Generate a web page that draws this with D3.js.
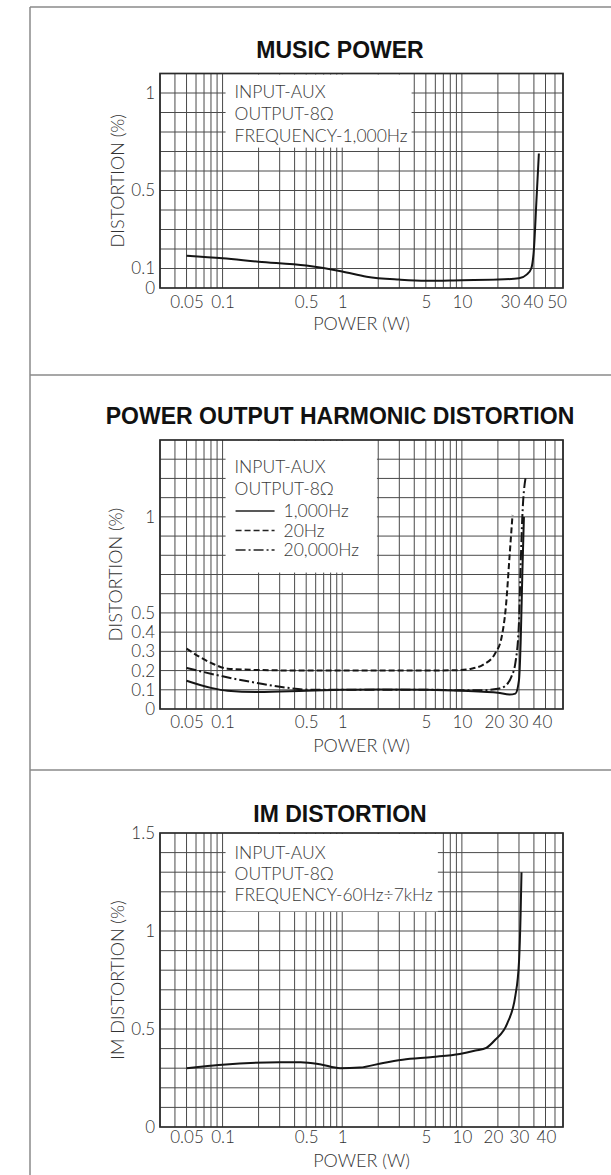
<!DOCTYPE html>
<html><head><meta charset="utf-8">
<script src="https://cdn.jsdelivr.net/npm/d3@7"></script>
<style>html,body{margin:0;padding:0;background:#fff;} svg{display:block}</style>
</head><body>
<svg id="c" width="611" height="1175"></svg>
<script>
// ---------- DATA ----------
// Music power (1,000Hz): power (W) vs distortion (%)
const musicX = [0.05, 0.1, 0.2, 0.5, 1, 1.6, 3, 5, 10, 20, 30, 35, 38, 40, 42, 44];
const musicY = [0.165, 0.152, 0.135, 0.115, 0.085, 0.058, 0.043, 0.037, 0.04, 0.043, 0.05, 0.07, 0.1, 0.2, 0.45, 0.69];

// Power output harmonic distortion
const thd1kX = [0.05, 0.08, 0.11, 0.2, 0.5, 1, 2, 5, 10, 15, 20, 25, 28, 30, 31, 32, 33];
const thd1kY = [0.147, 0.11, 0.095, 0.088, 0.095, 0.1, 0.102, 0.1, 0.095, 0.09, 0.085, 0.075, 0.08, 0.15, 0.35, 0.7, 1.0];
const thd20X = [0.05, 0.08, 0.11, 0.2, 0.5, 1, 2, 5, 9, 12, 15, 19, 21.5, 23.3, 25, 26.5];
const thd20Y = [0.314, 0.24, 0.21, 0.203, 0.2, 0.2, 0.2, 0.2, 0.202, 0.21, 0.23, 0.29, 0.375, 0.53, 0.79, 1.01];
const thd20kX = [0.05, 0.1, 0.2, 0.35, 0.55, 1, 2, 5, 10, 15, 20, 23, 26, 28, 30, 31, 32, 34];
const thd20kY = [0.214, 0.17, 0.134, 0.11, 0.1, 0.1, 0.1, 0.1, 0.098, 0.098, 0.105, 0.12, 0.17, 0.24, 0.45, 0.75, 1.0, 1.2];

// IM distortion
const imX = [0.05, 0.06, 0.1, 0.3, 0.45, 0.65, 0.96, 1.4, 2.2, 3.2, 5.7, 9.6, 13, 16, 19, 24, 28, 30, 31, 31.5];
const imY = [0.3, 0.305, 0.318, 0.33, 0.33, 0.32, 0.3, 0.303, 0.327, 0.343, 0.357, 0.373, 0.39, 0.404, 0.445, 0.53, 0.67, 0.84, 1.1, 1.3];

// Tick labels
const xTicksMusic = [0.05, 0.1, 0.5, 1, 5, 10, 30, 40, 50];
const xTicksTHD = [0.05, 0.1, 0.5, 1, 5, 10, 20, 30, 40];
const xTicksIM = [0.05, 0.1, 0.5, 1, 5, 10, 20, 30, 40];
const yTicksMusic = [0, 0.1, 0.5, 1];
const yTicksTHD = [0, 0.1, 0.2, 0.3, 0.4, 0.5, 1];
const yTicksIM = [0, 0.5, 1, 1.5];

const titles = ["MUSIC POWER", "POWER OUTPUT HARMONIC DISTORTION", "IM DISTORTION"];
const infoMusic = ["INPUT-AUX", "OUTPUT-8Ω", "FREQUENCY-1,000Hz"];
const infoTHD = ["INPUT-AUX", "OUTPUT-8Ω"];
const legendTHD = ["1,000Hz", "20Hz", "20,000Hz"];
const infoIM = ["INPUT-AUX", "OUTPUT-8Ω", "FREQUENCY-60Hz÷7kHz"];

// ---------- DRAW ----------
const svg = d3.select("#c");
const LABEL_FONT = "Lato, 'Open Sans', 'DejaVu Sans', sans-serif";
const TITLE_FONT = "'Liberation Sans', Arial, sans-serif";
const TXT = "#333";

svg.append("rect").attr("width", 611).attr("height", 1175).attr("fill", "#fff");

// page frame
const frame = svg.append("g").attr("stroke", "#8a8a8a").attr("stroke-width", 1.5);
frame.append("line").attr("x1", 30).attr("y1", 7).attr("x2", 611).attr("y2", 7);
frame.append("line").attr("x1", 30).attr("y1", 7).attr("x2", 30).attr("y2", 1175);
frame.append("line").attr("x1", 30).attr("y1", 375).attr("x2", 611).attr("y2", 375);
frame.append("line").attr("x1", 30).attr("y1", 770).attr("x2", 611).attr("y2", 770);

const dashStyles = { solid: null, dashed: "6,3", dashdot: "10,3,2,3" };

function drawChart(cfg) {
  const x = d3.scaleLog().domain([0.03, 70]).range([160, 563]);
  const y = d3.scaleLinear().domain([0, cfg.yMax]).range([cfg.bottom, cfg.top]);
  const g = svg.append("g");

  // title
  g.append("text").attr("x", 340).attr("y", cfg.titleY)
    .attr("text-anchor", "middle").attr("font-family", TITLE_FONT)
    .attr("font-weight", "bold").attr("font-size", 23).attr("fill", "#111")
    .text(cfg.title);

  // grid
  const grid = g.append("g").attr("stroke", "#4a4a4a").attr("stroke-width", 1);
  grid.selectAll("line.v").data(x.ticks()).join("line")
    .attr("x1", d => x(d)).attr("x2", d => x(d))
    .attr("y1", cfg.top).attr("y2", cfg.bottom);
  const hv = d3.range(1, Math.round(cfg.yMax * 10)).map(i => i / 10);
  grid.selectAll("line.h").data(hv).join("line")
    .attr("x1", x.range()[0]).attr("x2", x.range()[1])
    .attr("y1", d => y(d)).attr("y2", d => y(d));

  // info box (blanks grid)
  const bx0 = x(cfg.box[0]) + 3, bx1 = x(cfg.box[1]);
  g.append("rect").attr("x", bx0).attr("y", cfg.top + 1)
    .attr("width", bx1 - bx0).attr("height", y(cfg.box[2]) - cfg.top - 1)
    .attr("fill", "#fff");

  // frame
  g.append("rect").attr("x", x.range()[0]).attr("y", cfg.top)
    .attr("width", x.range()[1] - x.range()[0]).attr("height", cfg.bottom - cfg.top)
    .attr("fill", "none").attr("stroke", "#2a2a2a").attr("stroke-width", 1.7);

  // info text
  const info = g.append("g").attr("font-family", LABEL_FONT).attr("font-size", 17.5)
    .attr("fill", "#3a3a3a").attr("font-weight", 300);
  cfg.info.forEach((t, i) => {
    info.append("text").attr("x", bx0 + 9).attr("y", cfg.top + cfg.infoY0 + i * cfg.infoDy).text(t);
  });
  if (cfg.legend) {
    cfg.legend.forEach((t, i) => {
      const ly = cfg.top + cfg.infoY0 + (cfg.info.length + i) * cfg.legendDy + cfg.legendShift;
      info.append("line").attr("x1", bx0 + 10).attr("x2", bx0 + 49)
        .attr("y1", ly - 6).attr("y2", ly - 6).attr("stroke", "#222").attr("stroke-width", 1.6)
        .attr("stroke-dasharray", dashStyles[cfg.series[i].style]);
      info.append("text").attr("x", bx0 + 58).attr("y", ly).text(t);
    });
  }

  // curves
  const line = d3.line().x(d => x(d[0])).y(d => y(d[1])).curve(d3.curveMonotoneX);
  cfg.series.forEach(s => {
    g.append("path").datum(d3.zip(s.x, s.y)).attr("d", line)
      .attr("fill", "none").attr("stroke", "#151515").attr("stroke-width", 2)
      .attr("stroke-dasharray", dashStyles[s.style]);
  });

  // axes
  const ax = g.append("g").attr("transform", `translate(0,${cfg.bottom})`)
    .call(d3.axisBottom(x).tickValues(cfg.xTicks).tickSize(0).tickPadding(cfg.xPad).tickFormat(d => String(d)));
  ax.select(".domain").remove();
  ax.selectAll("text").attr("font-family", LABEL_FONT).attr("font-size", 17).attr("fill", TXT)
    .attr("font-weight", 300).attr("dx", d => cfg.xLabelShift[d] || 0);

  const ay = g.append("g").attr("transform", `translate(${x.range()[0]},0)`)
    .call(d3.axisLeft(y).tickValues(cfg.yTicks).tickSize(0).tickPadding(5).tickFormat(d => String(d)));
  ay.select(".domain").remove();
  ay.selectAll("text").attr("font-family", LABEL_FONT).attr("font-size", 17).attr("fill", TXT).attr("font-weight", 300);

  // axis titles
  g.append("text").attr("x", (x.range()[0] + x.range()[1]) / 2).attr("y", cfg.xTitleY)
    .attr("text-anchor", "middle").attr("font-family", LABEL_FONT).attr("font-size", 18)
    .attr("fill", TXT).attr("font-weight", 300).text("POWER (W)");
  g.append("text")
    .attr("transform", `translate(${cfg.yTitleX},${(cfg.top + cfg.bottom) / 2}) rotate(-90)`)
    .attr("text-anchor", "middle").attr("dominant-baseline", "central")
    .attr("font-family", LABEL_FONT).attr("font-size", 18).attr("fill", TXT).attr("font-weight", 300)
    .text(cfg.yTitle);
}

drawChart({
  title: titles[0], titleY: 58, top: 73.5, bottom: 288, yMax: 1.1,
  box: [0.1, 3.8, 0.72], info: infoMusic, infoY0: 24.5, infoDy: 22,
  series: [{ x: musicX, y: musicY, style: "solid" }],
  xTicks: xTicksMusic, yTicks: yTicksMusic, xLabelShift: { 30: -9, 40: -1, 50: 11 }, xPad: 8,
  xTitleY: 330, yTitleX: 117, yTitle: "DISTORTION (%)"
});

drawChart({
  title: titles[1], titleY: 424, top: 440, bottom: 709, yMax: 1.4,
  box: [0.1, 1.95, 0.71], info: infoTHD, infoY0: 33, infoDy: 22,
  legend: legendTHD, legendDy: 19.5, legendShift: 5,
  series: [
    { x: thd1kX, y: thd1kY, style: "solid" },
    { x: thd20X, y: thd20Y, style: "dashed" },
    { x: thd20kX, y: thd20kY, style: "dashdot" }
  ],
  xTicks: xTicksTHD, yTicks: yTicksTHD, xLabelShift: { 20: -4, 30: -1, 40: 8 }, xPad: 7,
  xTitleY: 752, yTitleX: 115, yTitle: "DISTORTION (%)"
});

drawChart({
  title: titles[2], titleY: 822, top: 833, bottom: 1127, yMax: 1.5,
  box: [0.1, 6.3, 1.1], info: infoIM, infoY0: 26, infoDy: 21,
  series: [{ x: imX, y: imY, style: "solid" }],
  xTicks: xTicksIM, yTicks: yTicksIM, xLabelShift: { 20: -5, 30: 0, 40: 12 }, xPad: 4,
  xTitleY: 1167, yTitleX: 117, yTitle: "IM DISTORTION (%)"
});
</script>
</body></html>
